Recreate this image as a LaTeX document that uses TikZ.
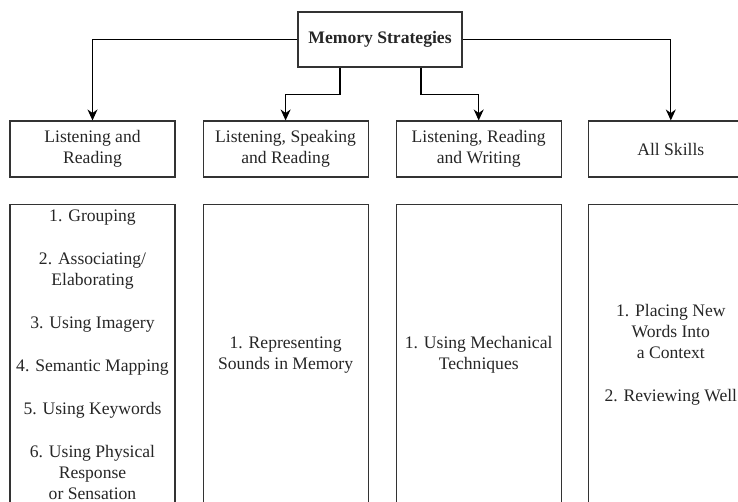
\documentclass[tikz,border=0pt]{standalone}
\usepackage{fontspec}
\setmainfont{Liberation Serif}
\usetikzlibrary{arrows.meta, positioning}

\begin{document}
\begin{tikzpicture}[
  x=1pt, y=-1pt,
  node distance=27pt,
  line width=1.1pt,
  every node/.style={font=\fontsize{17.6}{21}\selectfont, text=black!85},
  block/.style={draw=black!80, rectangle, minimum width=165pt, minimum height=56pt, align=center, inner sep=2pt},
  list/.style={block, minimum height=301pt},
  >={Stealth[length=11pt, width=10pt]}
]
  \useasboundingbox (0,0) rectangle (738,502);
  \node[block, minimum width=164pt, minimum height=55pt, font=\fontsize{17.6}{21}\selectfont\bfseries] (mem) at (380,39.5) {Memory Strategies};

  \node[block] (lr) at (92.5,149) {Listening and\\Reading};
  \node[block, right=of lr] (lsr) {Listening, Speaking\\and Reading};
  \node[block, right=of lsr] (lrw) {Listening, Reading\\and Writing};
  \node[block, right=26pt of lrw] (all) {All Skills};

  \node[list, below=26pt of lr] (lrS) {1. Grouping\\[22pt]
    2. Associating/\\Elaborating\\[22pt]
    3. Using Imagery\\[22pt]
    4. Semantic Mapping\\[22pt]
    5. Using Keywords\\[22pt]
    6. Using Physical\\Response\\or Sensation};
  \node[list, below=26pt of lsr] (lsrS) {1. Representing\\Sounds in Memory};
  \node[list, below=26pt of lrw] (lrwS) {1. Using Mechanical\\Techniques};
  \node[list, below=26pt of all] (allS) {1. Placing New\\Words Into\\a Context\\[22pt]
    2. Reviewing Well};

  \draw[->] (mem.west) -| (lr.north);
  \draw[->] ([xshift=-40pt]mem.south) -- ++(0,27) -| (lsr.north);
  \draw[->] ([xshift=41pt]mem.south) -- ++(0,27) -| (lrw.north);
  \draw[->] (mem.east) -| (all.north);
\end{tikzpicture}
\end{document}
